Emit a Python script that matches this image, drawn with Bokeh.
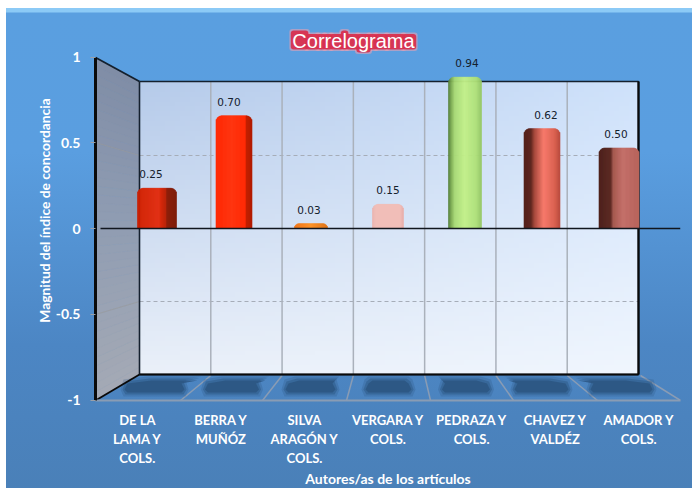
import numpy as np
from bokeh.plotting import figure
from bokeh.models import Range1d, FixedTicker, ColumnDataSource
from bokeh.core.properties import value as V
from bokeh.embed import file_html
from bokeh.resources import INLINE

categories = ["DE LA\nLAMA Y\nCOLS.", "BERRA Y\nMUÑÓZ", "SILVA\nARAGÓN Y\nCOLS.", "VERGARA Y\nCOLS.",
              "PEDRAZA Y\nCOLS.", "CHAVEZ Y\nVALDÉZ", "AMADOR Y\nCOLS."]
values = [0.25, 0.70, 0.03, 0.15, 0.94, 0.62, 0.50]
value_labels = ["0.25", "0.70", "0.03", "0.15", "0.94", "0.62", "0.50"]
y_ticks = [-1, -0.5, 0, 0.5, 1]
y_tick_labels = {-1: "-1", -0.5: "-0.5", 0: "0", 0.5: "0.5", 1: "1"}
title_text = "Correlograma"
x_title = "Autores/as de los artículos"
y_title = "Magnitud del índice de concordancia"

# ---- layout (image pixels) ----
FL, FR, FT, FB = 95, 680, 20, 400     # plot frame
BL, BR, BT, BB = 139, 638, 81, 374    # back wall
Z = 228                               # zero line
FRONT, BAR = 171.5, 161.0             # px per unit: front axis, bar plane
C0, STEP = 156.5, 77.0                # bar plane horizontal

nb = len(categories)
p = figure(width=686, height=480, output_backend="svg", toolbar_location=None,
           x_range=Range1d(-0.5, nb - 0.5),
           y_range=Range1d((Z - FB) / FRONT, (Z - FT) / FRONT),
           frame_width=FR - FL, frame_height=FB - FT,
           min_border_left=FL - 6, min_border_right=692 - FR, min_border_top=FT - 8, min_border_bottom=488 - FB,
           margin=(8, 0, 0, 6), border_fill_color=None, background_fill_color=None, outline_line_color=None)
p.styles = {"background": "linear-gradient(to bottom, #8ccaf6 0, #8ccaf6 4px, #5a9fe0 5px, #5a9ee0 30%, #4c86c4 70%, #4a80b8 100%)"}
p.extra_x_ranges = {"px": Range1d(FL, FR), "bx": Range1d((FL - C0) / STEP, (FR - C0) / STEP)}
p.extra_y_ranges = {"px": Range1d(488 - FB, 488 - FT), "by": Range1d((Z - FB) / BAR, (Z - FT) / BAR)}
PX = dict(x_range_name="px", y_range_name="px")
BY = dict(x_range_name="bx", y_range_name="by")
Y = lambda y: 488 - y


def hexrgb(h):
    return np.array([int(h[i:i + 2], 16) for i in (1, 3, 5)], float)


def mix(stops, t):
    pos = [s[0] for s in stops]
    cols = np.array([hexrgb(s[1]) for s in stops])
    c = [np.interp(t, pos, cols[:, k]) for k in range(3)]
    return "#%02x%02x%02x" % tuple(int(round(v)) for v in c)


# back wall gradient
h, w = 60, 100
tt = np.linspace(0, 1, h)[:, None]      # 0 bottom, 1 top
ss = np.linspace(0, 1, w)[None, :]
r = (0xea + (0xb6 - 0xea) * tt) + (0xf0 - 0xea + (0xcf - 0xb6 - (0xf0 - 0xea)) * tt) * ss
g = (0xf0 + (0xcb - 0xf0) * tt) + (0xf6 - 0xf0 + (0xe2 - 0xcb - (0xf6 - 0xf0)) * tt) * ss
b = (0xf9 + (0xea - 0xf9) * tt) + (0xfe - 0xf9 + (0xfb - 0xea - (0xfe - 0xf9)) * tt) * ss
img = np.zeros((h, w), dtype=np.uint32)
view = img.view(dtype=np.uint8).reshape((h, w, 4))
view[..., 0] = r; view[..., 1] = g; view[..., 2] = b; view[..., 3] = 255
p.image_rgba(image=[img], x=BL, y=Y(BB), dw=BR - BL, dh=BB - BT, **PX)

# left wall gradient slices
n = 40
xs, ys, cs = [], [], []
for k in range(n):
    a0, a1 = k / n, (k + 1.02) / n
    x0, x1 = FL, BL
    yl0, yl1 = 57 + (400 - 57) * a0, 57 + (400 - 57) * a1
    yr0, yr1 = BT + (BB - BT) * a0, BT + (BB - BT) * a1
    xs.append([x0, x1, x1, x0]); ys.append([Y(yl0), Y(yr0), Y(yr1), Y(yl1)])
    cs.append(mix([(0, "#808da6"), (.45, "#8f9cb2"), (1, "#a5aab5")], a0))
p.patches(xs, ys, fill_color=cs, line_color=cs, line_width=.6, **PX)

# floor lines
top_x = [BL + (BR - BL) * i / nb for i in range(1, nb)] + [640]
bot_x = [180, 262, 346, 430, 513, 597, 680]
p.segment(top_x, [Y(BB + 1)] * nb, bot_x, [Y(FB)] * nb, line_color="#8a9cb4", line_width=1.5, **PX)

# floor shadows
cx = [154, 231.5, 310, 388, 465.5, 541, 621]
hw = [32, 29, 27, 25, 26, 29, 33]
for grow, alpha in ((2, .25), (0, .45), (-2, .8)):
    sx, sy = [], []
    for c, w_ in zip(cx, hw):
        s = (388 - c) * 0.085
        t, bm = 378 - grow, 394 + grow
        ww = w_ + grow
        sx.append([c + s - ww + 3 + 4, c + s + ww - 3 - 4, c + ww - 3, c + ww, c + ww - 3, c - ww + 3, c - ww, c - ww + 3])
        sy.append([Y(t), Y(t), Y(t + 3), Y((t + bm) / 2 + 3), Y(bm), Y(bm), Y((t + bm) / 2 + 3), Y(t + 3)])
    p.patches(sx, sy, fill_color="#2a5480", fill_alpha=alpha, line_color=None, **PX)

# back grid
p.segment([BL] * 2, [Y(155), Y(301)], [BR] * 2, [Y(155), Y(301)], line_color="#a6adb8", line_width=1, line_dash="4 3", **PX)
gx = [BL + (BR - BL) * i / nb for i in range(1, nb)]
p.segment(gx, [Y(BT)] * (nb - 1), gx, [Y(BB)] * (nb - 1), line_color="#aab1bb", line_width=1.5, **PX)
# faint guide from ticks to wall
p.segment([FL, FL], [Y(142), Y(314)], [BL, BL], [Y(155), Y(301)], line_color="#9a9a9a", line_width=1, line_alpha=.6, **PX)

# wall frame
p.line([BL, BR, BR, BL, BL], [Y(BT), Y(BT), Y(BB), Y(BB), Y(BT)], line_color="#14202e", line_width=1.6, **PX)
p.line([BL, BR], [Y(BB), Y(BB)], line_color="#0a0a0a", line_width=2.2, **PX)
p.line([BR, BR], [Y(BT), Y(BB)], line_color="#0a0a0a", line_width=2.2, **PX)
p.line([FL, BL], [Y(57), Y(BT)], line_color="#14202e", line_width=1.8, **PX)
p.line([FL, BL], [Y(400), Y(BB)], line_color="#0a0a0a", line_width=1.8, **PX)

# bars: vertical strips for the cylinder shading
widths = [39, 36, 33, 31, 33, 36, 40]
shade = [
    [(0, "#c81c00"), (.1, "#d42000"), (.55, "#e22a0c"), (.62, "#d42000"), (.74, "#b81c00"), (.76, "#8a1600"), (1, "#7a1400")],
    [(0, "#ff2a05"), (.45, "#ff3510"), (.82, "#ff2a05"), (.84, "#c42000"), (1, "#b01c00")],
    [(0, "#f07010"), (.5, "#ff9020"), (1, "#e07010")],
    [(0, "#eab0aa"), (.1, "#f2bcb6"), (.9, "#f2bcb6"), (1, "#e8aca6")],
    [(0, "#4f7a36"), (.1, "#7fae52"), (.2, "#a8da74"), (.5, "#c2f088"), (.85, "#aee078"), (1, "#94c764")],
    [(0, "#54221b"), (.2, "#5e261f"), (.3, "#a84a3e"), (.55, "#f87a6c"), (.88, "#d8604f"), (1, "#b84a3e")],
    [(0, "#4e221c"), (.3, "#5c2a24"), (.36, "#a45a50"), (.6, "#c4706a"), (1, "#b8645c")],
]
L, R, T, K = [], [], [], []
for i, val in enumerate(values):
    wd = widths[i]
    rad = min(6, val * BAR)
    for q in range(wd):
        d = min(q + .5, wd - q - .5)
        drop = rad - np.sqrt(max(rad ** 2 - (rad - d) ** 2, 0)) if d < rad else 0
        L.append(i + (q - wd / 2) / STEP)
        R.append(i + (q + 1 - wd / 2) / STEP)
        T.append(val - drop / BAR)
        K.append(mix(shade[i], (q + .5) / wd))
p.quad(left=L, right=R, top=T, bottom=[0] * len(L), fill_color=K, line_color=K, line_width=.6, **BY)

# zero line
p.segment([100], [Y(Z)], [FR], [Y(Z)], line_color="#10161e", line_width=1.4, **PX)

# value labels
nudge = [-6, -5, -2, 0, 2, 4, -3]
src = ColumnDataSource(dict(x=list(range(nb)), y=values, t=value_labels, dx=nudge))
p.text(x="x", y="y", text="t", source=src, x_offset="dx", y_offset=-14, text_align="center", text_baseline="middle",
       text_font=V("DejaVu Sans"), text_font_size="10.5px", text_color="#14202c", **BY)

# title: crimson halo hugging each letter's height, white text on top
TS = 20
adv = {"C": .722, "o": .556, "r": .333, "e": .556, "l": .222, "g": .556, "a": .556, "m": .833}
tall = {"C", "l"}
x0 = 353 - sum(adv[c] for c in title_text) * TS / 2
hl, hr, ht, hb = [], [], [], []
for c in title_text:
    x1 = x0 + adv[c] * TS
    hl.append(x0); hr.append(x1)
    ht.append(Y(31.5 if c in tall else 35))
    hb.append(Y(50.5 if c == "g" else 47.5))
    x0 = x1
for pad, col, alpha in ((3, "#f0a0b0", .55), (1.6, "#d8304f", .95)):
    p.quad(left=[a - pad for a in hl], right=[a + pad for a in hr], top=[a + pad for a in ht],
           bottom=[a - pad for a in hb], fill_color=col, fill_alpha=alpha, line_color=None, border_radius=3, **PX)
p.text(x=[353], y=[Y(40)], text=[title_text], text_align="center", text_baseline="middle",
       text_font=V("Liberation Sans"), text_font_size=f"{TS}px", text_color="#ffffff", **PX)

# axes
ya = p.yaxis[0]
ya.ticker = FixedTicker(ticks=y_ticks)
ya.major_label_overrides = y_tick_labels
ya.bounds = (-1, 1)
ya.axis_line_color = "#0a0a0a"; ya.axis_line_width = 3
ya.major_tick_line_color = "#9aa0a8"; ya.major_tick_out = 5; ya.major_tick_in = 0; ya.minor_tick_line_color = None
ya.major_label_text_color = "#ffffff"; ya.major_label_text_font = "Lato"; ya.major_label_text_font_style = "bold"
ya.major_label_text_font_size = "14px"; ya.major_label_standoff = 10
ya.axis_label = y_title; ya.axis_label_text_color = "#ffffff"; ya.axis_label_text_font = "Lato"
ya.axis_label_text_font_style = "bold"; ya.axis_label_text_font_size = "13.8px"; ya.axis_label_standoff = 0

xa = p.xaxis[0]
xa.ticker = FixedTicker(ticks=list(range(nb)))
xa.major_label_overrides = {i: c for i, c in enumerate(categories)}
xa.axis_line_color = "#8a9cb4"; xa.axis_line_width = 2
xa.major_tick_line_color = None; xa.minor_tick_line_color = None
xa.major_label_text_color = "#ffffff"; xa.major_label_text_font = "Lato"; xa.major_label_text_font_style = "bold"
xa.major_label_text_font_size = "13px"; xa.major_label_standoff = 5; xa.major_label_orientation = "horizontal"
xa.axis_label = x_title; xa.axis_label_text_color = "#ffffff"; xa.axis_label_text_font = "Lato"
xa.axis_label_text_font_style = "bold"; xa.axis_label_text_font_size = "14px"; xa.axis_label_standoff = 1
p.grid.visible = False

open("out.html", "w").write(file_html(p, INLINE))
